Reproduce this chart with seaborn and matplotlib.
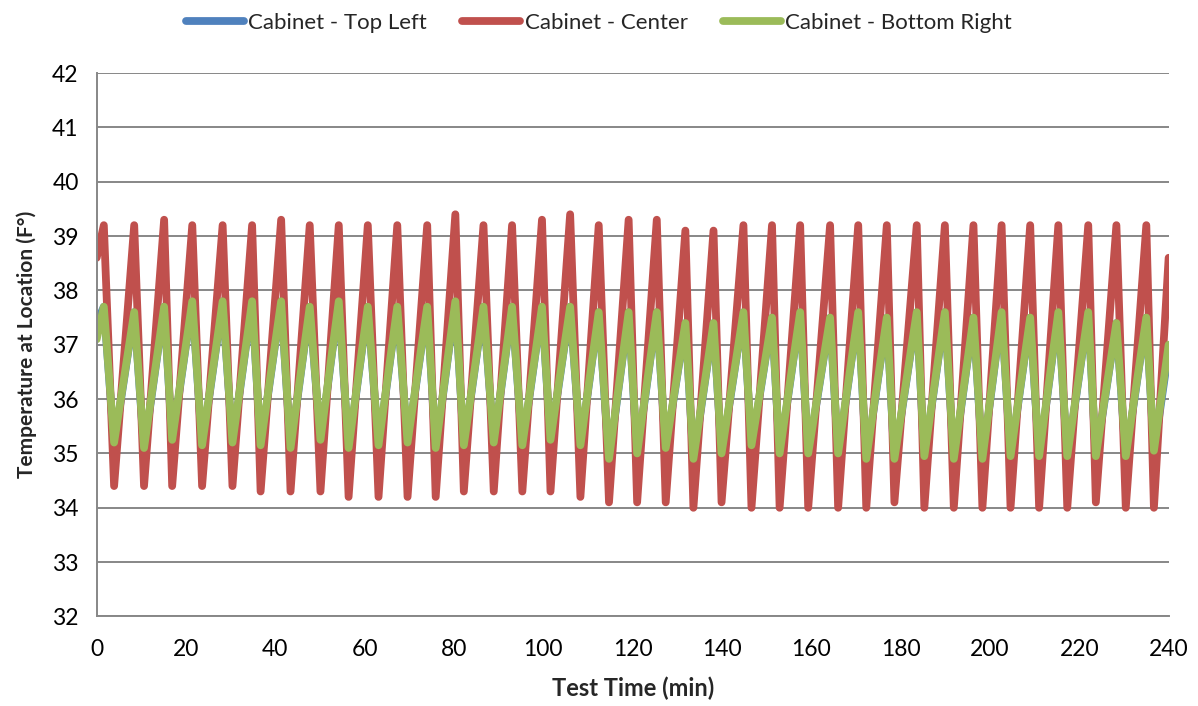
import numpy as np
import pandas as pd
import matplotlib
matplotlib.use("Agg")
import matplotlib.pyplot as plt
import seaborn as sns

# Cycle turning points (minutes)
peak_times = [1.6, 8.4, 15.1, 21.4, 28.2, 34.8, 41.3, 47.7, 54.2, 60.7,
              67.3, 74.0, 80.3, 86.6, 93.0, 99.7, 106.0, 112.4, 119.1, 125.4,
              131.8, 138.1, 144.8, 151.2, 157.5, 164.2, 170.5, 176.9, 183.6,
              189.9, 196.3, 202.6, 209.0, 215.3, 222.0, 228.3, 235.0]
trough_times = [3.9, 10.6, 16.9, 23.6, 30.4, 36.7, 43.4, 50.1, 56.4, 63.1,
                69.6, 75.9, 82.2, 88.9, 95.3, 101.6, 108.3, 114.7, 121.0, 127.4,
                133.6, 139.9, 146.6, 152.9, 159.3, 166.0, 172.3, 178.6, 185.3,
                191.9, 198.3, 204.6, 211.0, 217.3, 223.7, 230.4, 236.7]
start_time, end_time = 0.0, 240.0

# Cabinet - Center (red)
center_start, center_end = 38.6, 38.6
center_peaks = [39.2, 39.2, 39.3, 39.2, 39.2, 39.2, 39.3, 39.2, 39.2, 39.2,
                39.2, 39.2, 39.4, 39.2, 39.2, 39.3, 39.4, 39.2, 39.3, 39.3,
                39.1, 39.1, 39.2, 39.2, 39.2, 39.2, 39.2, 39.2, 39.2,
                39.2, 39.2, 39.2, 39.2, 39.2, 39.2, 39.2, 39.2]
center_troughs = [34.4, 34.4, 34.4, 34.4, 34.4, 34.3, 34.3, 34.3, 34.2, 34.2,
                  34.2, 34.2, 34.3, 34.3, 34.3, 34.3, 34.2, 34.1, 34.1, 34.1,
                  34.0, 34.1, 34.0, 34.0, 34.0, 34.0, 34.0, 34.1, 34.0,
                  34.0, 34.0, 34.0, 34.0, 34.0, 34.1, 34.0, 34.0]

# Cabinet - Bottom Right (green)
bottom_start, bottom_end = 37.1, 37.0
bottom_peaks = [37.7, 37.6, 37.7, 37.8, 37.8, 37.8, 37.8, 37.7, 37.8, 37.7,
                37.7, 37.7, 37.8, 37.7, 37.7, 37.7, 37.7, 37.6, 37.6, 37.6,
                37.4, 37.4, 37.6, 37.5, 37.6, 37.5, 37.6, 37.5, 37.6,
                37.6, 37.5, 37.6, 37.5, 37.6, 37.6, 37.4, 37.5]
bottom_troughs = [35.2, 35.1, 35.25, 35.15, 35.2, 35.15, 35.1, 35.25, 35.1, 35.15,
                  35.2, 35.1, 35.15, 35.2, 35.15, 35.25, 35.15, 34.9, 35.0, 35.1,
                  34.9, 35.0, 35.15, 35.0, 35.0, 35.0, 34.9, 34.9, 34.95,
                  34.9, 34.9, 34.95, 34.95, 34.95, 34.95, 34.95, 35.05]

# Cabinet - Top Left (blue, almost entirely hidden under green)
top_start, top_end = 37.4, 36.9
top_peaks = [37.7, 37.6, 37.7, 37.8, 37.8, 37.8, 37.8, 37.7, 37.8, 37.7,
             37.7, 37.7, 37.8, 37.7, 37.7, 37.7, 37.7, 37.6, 37.6, 37.6,
             37.4, 37.4, 37.6, 37.5, 37.6, 37.5, 37.6, 37.5, 37.6,
             37.6, 37.5, 37.6, 37.5, 37.6, 37.6, 37.4, 37.5]
top_troughs = [35.15, 35.05, 35.2, 35.1, 35.15, 35.1, 35.05, 35.2, 35.05, 35.1,
               35.15, 35.05, 35.1, 35.15, 35.1, 35.2, 35.1, 34.85, 34.95, 35.05,
               34.85, 34.95, 35.1, 34.95, 34.95, 34.95, 34.85, 34.85, 34.9,
               34.85, 34.85, 34.9, 34.9, 34.9, 34.9, 34.9, 35.0]

series_names = ["Cabinet - Top Left", "Cabinet - Center", "Cabinet - Bottom Right"]
series_colors = ["#4F81BD", "#C0504D", "#9BBB59"]


def build_series(name, start, peaks, troughs, end):
    t = [start_time]
    v = [start]
    for pt, pv, tt, tv in zip(peak_times, peaks, trough_times, troughs):
        t += [pt, tt]
        v += [pv, tv]
    t.append(end_time)
    v.append(end)
    return pd.DataFrame({"time": t, "temp": v, "series": name})


df = pd.concat([
    build_series(series_names[0], top_start, top_peaks, top_troughs, top_end),
    build_series(series_names[1], center_start, center_peaks, center_troughs, center_end),
    build_series(series_names[2], bottom_start, bottom_peaks, bottom_troughs, bottom_end),
], ignore_index=True)

sns.set_style("white")
plt.rcParams["font.family"] = ["Lato", "DejaVu Sans"]

fig = plt.figure(figsize=(11.98, 7.06), dpi=100)
ax = fig.add_axes([0.0807, 0.1268, 0.8948, 0.7698])

sns.lineplot(
    data=df, x="time", y="temp", hue="series",
    hue_order=series_names, palette=series_colors,
    estimator=None, sort=False, linewidth=5.6, ax=ax,
)

grid_color = "#878787"
ax.set_xlim(0, 240)
ax.set_ylim(32, 42)
ax.set_xticks(np.arange(0, 241, 20))
ax.set_yticks(np.arange(32, 43, 1))
ax.yaxis.grid(True, color=grid_color, linewidth=1.4)
ax.xaxis.grid(False)
ax.set_axisbelow(True)
for side in ["top", "right"]:
    ax.spines[side].set_visible(False)
for side in ["left", "bottom"]:
    ax.spines[side].set_color(grid_color)
    ax.spines[side].set_linewidth(1.4)
ax.tick_params(axis="both", direction="out", length=7, width=1.4,
               color=grid_color, labelsize=16.5, labelcolor="black")
ax.tick_params(axis="x", pad=9)
ax.tick_params(axis="y", pad=6)

ax.set_xlabel("Test Time (min)", fontsize=17, fontweight="bold", labelpad=12)
ax.set_ylabel("Temperature at Location (F°)", fontsize=15, fontweight="bold", labelpad=11)

ax.legend(
    loc="center", bbox_to_anchor=(0.5, 0.968), bbox_transform=fig.transFigure,
    ncol=3, frameon=False, fontsize=16, handlelength=2.6,
    handletextpad=0.2, columnspacing=1.6, title=None,
)

fig.savefig("out.png", dpi=100)
